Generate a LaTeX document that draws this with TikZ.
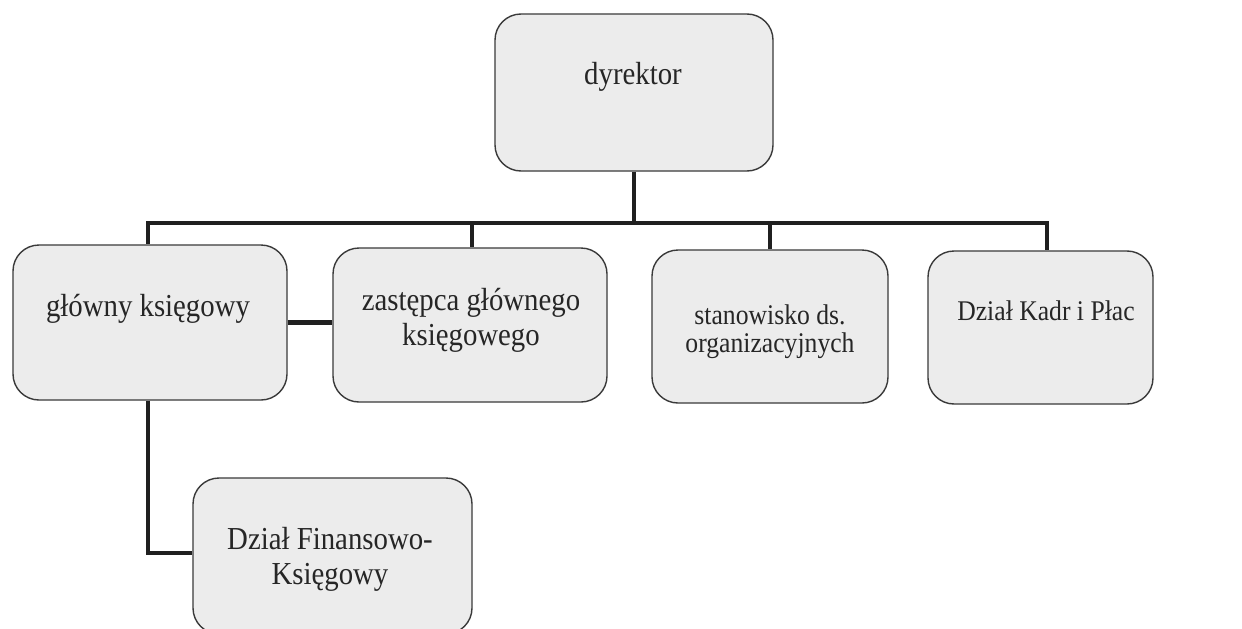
\documentclass[tikz,border=0pt]{standalone}
\usepackage{fontspec}
\setmainfont{Liberation Serif}
\newfontfamily\orgfont[FakeStretch=0.9]{Liberation Serif}
\definecolor{boxfill}{HTML}{ECECEC}
\definecolor{boxline}{HTML}{3A3A3A}
\definecolor{connline}{HTML}{202020}
\definecolor{txtcol}{HTML}{262626}
\tikzset{
  orgbox/.style={draw=boxline, line width=1.4pt, fill=boxfill, rounded corners=26pt, inner sep=0pt},
  conn/.style={draw=connline, line width=4.8pt},
  lbl/.style={anchor=base, inner sep=0pt, text=txtcol, font=\orgfont\fontsize{32}{36}\selectfont},
  lblsmall/.style={anchor=base, inner sep=0pt, text=txtcol, font=\orgfont\fontsize{28.5}{32}\selectfont}
}
\begin{document}
\begin{tikzpicture}[x=1pt,y=-1pt]
\useasboundingbox (0,0) rectangle (1242,629);
\clip (0,0) rectangle (1242,629);
\fill[white] (0,0) rectangle (1242,629);
% boxes
\node[orgbox, minimum width=278pt, minimum height=157pt] (dir) at (634,92.5) {};
\node[orgbox, minimum width=274pt, minimum height=155pt] (glk) at (150,322.5) {};
\node[orgbox, minimum width=274pt, minimum height=154pt] (zast) at (470,325) {};
\node[orgbox, minimum width=236pt, minimum height=153pt] (stan) at (770,326.5) {};
\node[orgbox, minimum width=225pt, minimum height=153pt] (kadr) at (1040.5,327.5) {};
\node[orgbox, minimum width=279pt, minimum height=156pt] (fin) at (332.5,556) {};
% connectors
\coordinate (busL) at (148,223);
\coordinate (busR) at (1047,223);
\coordinate (busZ) at (472,223);
\coordinate (fj) at (148,553);
\draw[conn] (dir.south) -- (dir.south |- busL);
\draw[conn, line cap=rect] (busL) -- (busR);
\draw[conn] (busL) -- (busL |- glk.north);
\draw[conn] (busZ) -- (busZ |- zast.north);
\draw[conn] (stan.north |- busL) -- (stan.north);
\draw[conn] (busR) -- (busR |- kadr.north);
\draw[conn] (glk.east) -- (glk.east -| zast.west);
\draw[conn] (busL |- glk.south) -- (fj) -- (fj -| fin.west);
% texts
\node[lbl] (dirT) at (633,84) {dyrektor};
\node[lbl] (glkT) at (148,316) {główny księgowy};
\node[lbl] (zastT1) at (471,310) {zastępca głównego};
\node[lbl] (zastT2) at (471,345) {księgowego};
\node[lblsmall] (stanT1) at (770,324) {stanowisko ds.};
\node[lblsmall] (stanT2) at (770,352) {organizacyjnych};
\node[lblsmall] (kadrT) at (1046,320) {Dział Kadr i Płac};
\node[lbl] (finT1) at (330,549) {Dział Finansowo-};
\node[lbl] (finT2) at (330,584) {Księgowy};
\end{tikzpicture}
\end{document}
